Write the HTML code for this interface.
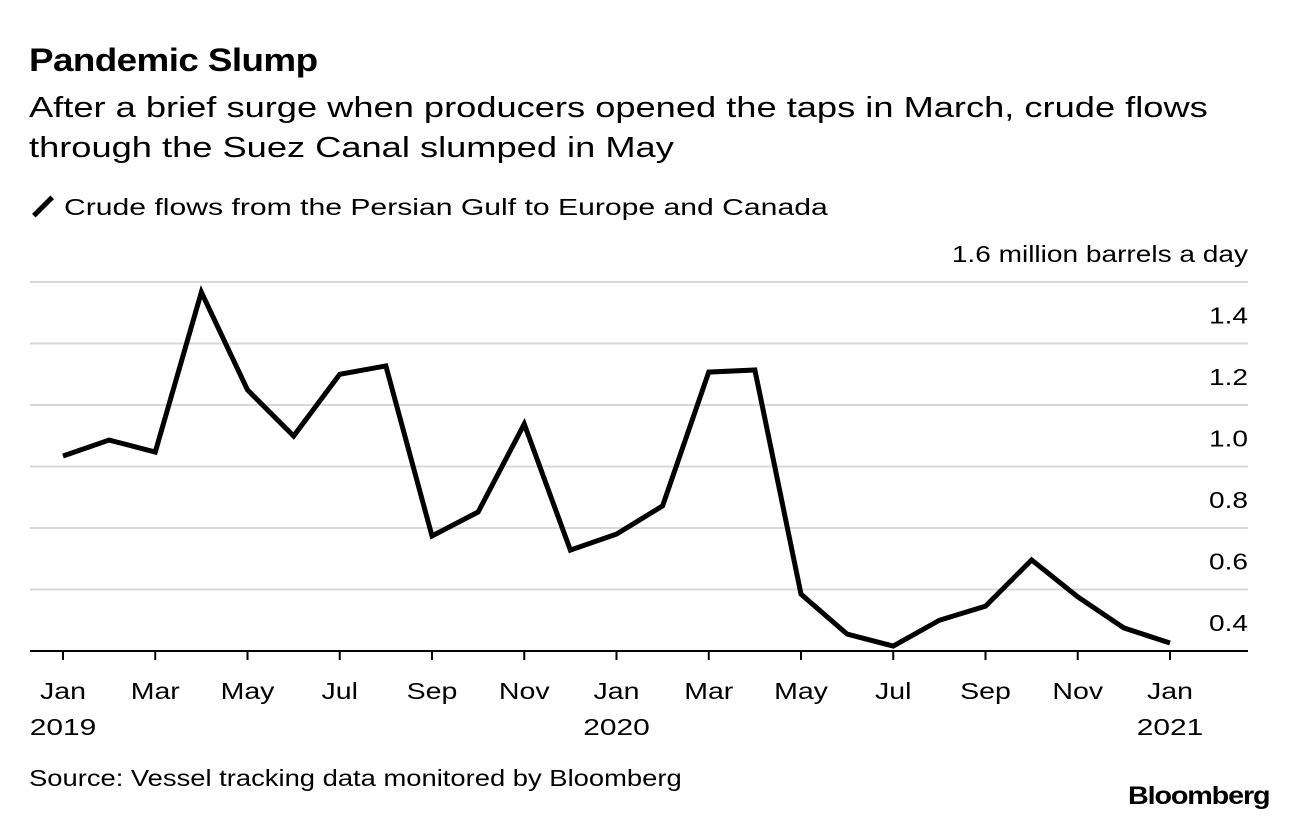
<!DOCTYPE html>
<html><head><meta charset="utf-8">
<style>
body{margin:0;background:#fff;width:1296px;height:820px;overflow:hidden;font-family:"Liberation Sans",sans-serif;color:#000}
.t{position:absolute;white-space:nowrap;transform-origin:0 0}
</style></head><body>
<div class="t" style="left:29px;top:42px;font-size:32px;font-weight:bold;letter-spacing:-0.5px;transform:scaleX(1.15)">Pandemic Slump</div>
<div class="t" style="left:29px;top:88px;font-size:29px;line-height:40px;transform:scaleX(1.25)">After a brief surge when producers opened the taps in March, crude flows<br>through the Suez Canal slumped in May</div>
<div class="t" style="left:30px;top:194px;font-size:23px"><span style="display:inline-block;width:26px;height:5px;background:#000;transform:rotate(-45deg);vertical-align:middle;margin-right:8px;position:relative;top:-2px"></span><span style="display:inline-block;transform:scaleX(1.31);transform-origin:0 0">Crude flows from the Persian Gulf to Europe and Canada</span></div>
<div class="t" style="left:29px;top:765px;font-size:23px;transform:scaleX(1.19)">Source: Vessel tracking data monitored by Bloomberg</div>
<div class="t" style="left:1128px;top:782px;font-size:25px;font-weight:bold;letter-spacing:-1px;transform:scaleX(1.15)">Bloomberg</div>
<svg id="c" width="1296" height="820" style="position:absolute;left:0;top:0"></svg>
<script>
const months=["Jan","Feb","Mar","Apr","May","Jun","Jul","Aug","Sep","Oct","Nov","Dec","Jan","Feb","Mar","Apr","May","Jun","Jul","Aug","Sep","Oct","Nov","Dec","Jan"];
const values=[1.034,1.086,1.047,1.567,1.249,1.099,1.30,1.327,0.774,0.852,1.138,0.728,0.78,0.872,1.307,1.314,0.585,0.455,0.416,0.50,0.546,0.696,0.576,0.475,0.426];
const yTicks=[0.4,0.6,0.8,1.0,1.2,1.4,1.6];
const yTickLabels=["0.4","0.6","0.8","1.0","1.2","1.4","1.6 million barrels a day"];
const xTickIdx=[0,2,4,6,8,10,12,14,16,18,20,22,24];
const yearLabels={0:"2019",12:"2020",24:"2021"};
const svg=document.getElementById('c');const NS="http://www.w3.org/2000/svg";
const x=i=>63+i*(1170-63)/24;
const y=v=>651-(v-0.4)*307.5;
function mk(t,a,p){const e=document.createElementNS(NS,t);for(const k in a)e.setAttribute(k,a[k]);(p||svg).appendChild(e);return e;}
function txt(s,tx,ty,anchor,sx){const t=mk('text',{x:0,y:0,'text-anchor':anchor,'font-size':23,'font-family':'Liberation Sans, sans-serif',transform:'translate('+tx+','+ty+') scale('+sx+',1)'});t.textContent=s;return t;}
yTicks.forEach((v,i)=>{
 const l=mk('line',{x1:30,x2:1248,y1:y(v),y2:y(v),stroke:i==0?'#000':'#d9d9d9','stroke-width':2});
 
 
 const t=txt(yTickLabels[i],1248,y(v)-20,'end',1.22);
 
 
});
xTickIdx.forEach(i=>{
 const l=mk('line',{x1:x(i),x2:x(i),y1:651,y2:660,stroke:'#000','stroke-width':2});
 
 
 const t=txt(months[i],x(i),699,'middle',1.24);
 
 
 if(yearLabels[i]){const u=txt(yearLabels[i],x(i),735,'middle',1.3);
 
 }
});
const p=mk('polyline',{points:values.map((v,i)=>x(i)+','+y(v)).join(' '),fill:'none',stroke:'#000','stroke-width':5,'stroke-linejoin':'miter'});


</script>
</body></html>
